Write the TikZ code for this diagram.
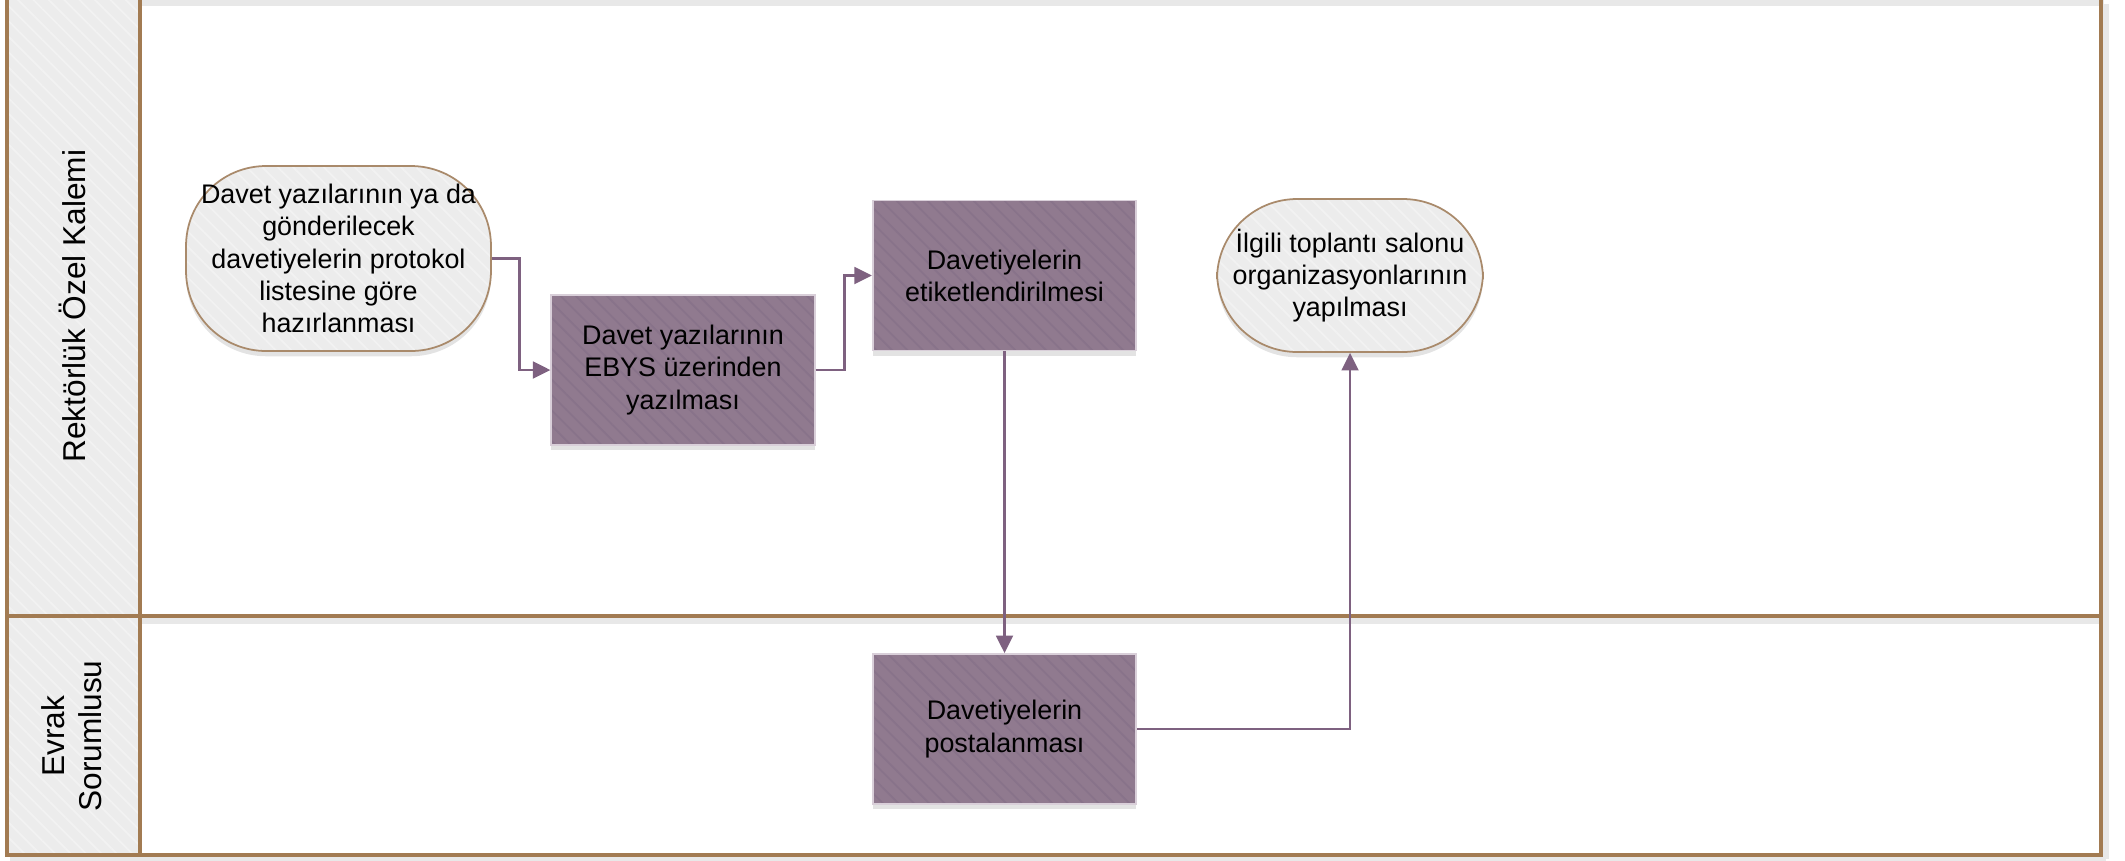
\documentclass[tikz,border=0pt]{standalone}
\usepackage{fontspec}
\setmainfont{Liberation Sans}
\usepackage{xcolor}
\usepackage{tikz}
\usetikzlibrary{arrows.meta,patterns.meta,shadows}
\definecolor{lanebrd}{HTML}{A27B52}
\definecolor{colfill}{HTML}{ECECEC}
\definecolor{colstripe}{HTML}{F2F2F2}
\definecolor{termfill}{HTML}{ECECEC}
\definecolor{termline}{HTML}{A98A6B}
\definecolor{boxfill}{HTML}{907A8F}
\definecolor{boxstripe}{HTML}{88738A}
\definecolor{boxline}{HTML}{D9CFD9}
\definecolor{arrowc}{HTML}{7E6180}
\tikzset{
  lane/.style={draw=lanebrd, line width=1.8pt},
  lanesh/.style={draw=black!9, line width=3pt},
  head/.style={preaction={fill=colfill},
    preaction={pattern={Lines[angle=-45,distance=6.2pt,line width=1pt]}, pattern color=colstripe}},
  lab/.style={text=black, font=\fontsize{18}{21}\selectfont, rotate=90, align=center},
  txt/.style={text=black, font=\fontsize{15.3}{18.3}\selectfont, align=center, inner sep=0pt},
  term/.style={txt, drop shadow={shadow xshift=0pt, shadow yshift=-3pt, opacity=0.22},
    preaction={fill=termfill},
    preaction={pattern={Lines[angle=-45,distance=6.2pt,line width=1pt]}, pattern color=colstripe},
    draw=termline, line width=1pt, rounded corners=1.6cm},
  prc/.style={txt, drop shadow={shadow xshift=0pt, shadow yshift=-3pt, opacity=0.22},
    preaction={fill=boxfill},
    preaction={pattern={Lines[angle=-45,distance=6.2pt,line width=1pt]}, pattern color=boxstripe},
    draw=boxline, line width=1pt, minimum width=5.27cm, minimum height=3cm},
  flow/.style={draw=arrowc, line width=1.6pt, -{Triangle[length=10pt,width=9.5pt]}},
}
\begin{document}
\begin{tikzpicture}[x=0.02cm, y=-0.02cm]
  \useasboundingbox (0,0) rectangle (2125,860);

  % lanes
  \draw[lanesh] (7,3) -- (2104,3);
  \draw[lanesh] (140,621) -- (2101,621);
  \draw[lanesh] (2106,4) -- (2106,859);
  \draw[lanesh] (10,859) -- (2106,859);
  \path[head] (7,-2) rectangle (140,855);
  \draw[lane] (7,-2) rectangle (2101,855);
  \draw[lane] (140,-2) -- (140,855);
  \draw[lane] (7,616) -- (2101,616);

  \node[lab] (lane1) at (72,306) {Rektörlük Özel Kalemi};
  \node[lab] (lane2) at (72,736) {Evrak\\Sorumlusu};

  % steps
  \node[term, minimum width=6.1cm, minimum height=3.7cm] (start) at (338.5,258.5)
    {Davet yazılarının ya da\\gönderilecek\\davetiyelerin protokol\\listesine göre\\hazırlanması};
  \node[prc] (ebys) at (683,370) {Davet yazılarının\\EBYS üzerinden\\yazılması};
  \node[prc] (etiket) at (1004.5,275.5) {Davetiyelerin\\etiketlendirilmesi};
  \node[prc] (posta) at (1004.5,729) {Davetiyelerin\\postalanması};
  \node[term, minimum width=5.32cm, minimum height=3.06cm] (salon) at (1350,275.5)
    {İlgili toplantı salonu\\organizasyonlarının\\yapılması};

  \draw[flow] (start.east) -- ++(28,0) |- (ebys.west);
  \draw[flow] (ebys.east) -- ++(29,0) |- (etiket.west);
  \draw[flow] (etiket.south) -- (posta.north);
  \draw[flow] (posta.east) -| (salon.south);
\end{tikzpicture}
\end{document}
